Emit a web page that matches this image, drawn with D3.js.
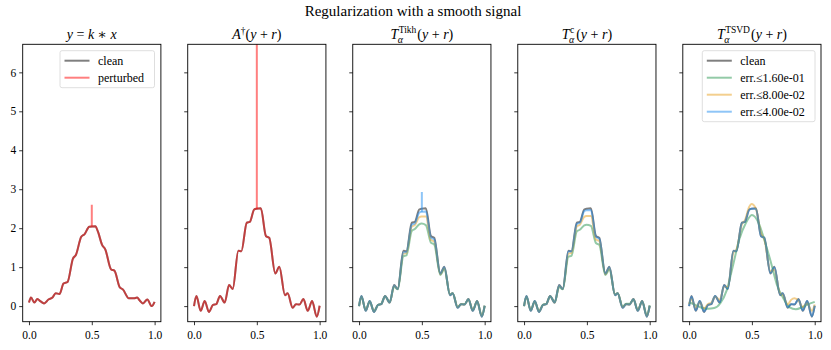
<!DOCTYPE html>
<html>
<head>
<meta charset="utf-8">
<script src="https://cdn.jsdelivr.net/npm/d3@7"></script>
<style>
  body { margin: 0; background: #fff; }
  text { font-family: "Liberation Serif", "DejaVu Serif", serif; fill: #000; }
</style>
</head>
<body>
<script>
// Figure size
const width = 831, height = 350;

// Superscripts for the T_alpha panel titles
const panelSups = [null, null, "Tikh", "c", "TSVD"];

// Axis ticks
const xTicks = [0.0, 0.5, 1.0];
const yTicks = [0, 1, 2, 3, 4, 5, 6];

// Convolved signal y = k*x (panel 1)
const tY = [0, 0.016, 0.043, 0.067, 0.093, 0.12, 0.155, 0.187, 0.213, 0.243, 0.275, 0.307, 0.35, 0.373, 0.416, 0.443, 0.48, 0.528, 0.549, 0.581, 0.608, 0.654, 0.68, 0.723, 0.747, 0.795, 0.835, 0.861, 0.88, 0.907, 0.942, 0.977, 1.0];
const yClean = [0.09, 0.22, 0.09, 0.18, 0.12, 0.07, 0.17, 0.22, 0.33, 0.31, 0.58, 0.62, 1.22, 1.31, 1.78, 1.85, 2.04, 2.05, 1.91, 1.58, 1.45, 0.94, 0.91, 0.48, 0.43, 0.20, 0.20, 0.22, 0.15, 0.07, 0.17, 0.0, 0.11];

// Clean signal x and reconstructions (same sample positions)
const tX = [0, 0.019, 0.053, 0.085, 0.119, 0.151, 0.177, 0.207, 0.244, 0.279, 0.308, 0.353, 0.377, 0.42, 0.444, 0.479, 0.497, 0.532, 0.572, 0.599, 0.647, 0.679, 0.724, 0.745, 0.785, 0.812, 0.839, 0.871, 0.905, 0.94, 0.977, 1.0];
const xClean = [0.0, 0.26, -0.12, 0.13, -0.15, 0.03, 0.05, 0.26, 0.09, 0.54, 0.44, 1.42, 1.41, 2.14, 2.16, 2.48, 2.5, 2.51, 1.80, 1.75, 0.84, 1.01, 0.28, 0.33, -0.04, 0.05, 0.04, 0.18, -0.12, 0.13, -0.27, 0.01];

const tikhGreen  = [0.0, 0.24, -0.1, 0.12, -0.13, 0.03, 0.06, 0.25, 0.1, 0.5, 0.43, 1.28, 1.3, 1.93, 1.98, 2.1, 2.12, 2.08, 1.63, 1.58, 0.8, 0.95, 0.3, 0.33, -0.02, 0.05, 0.05, 0.17, -0.1, 0.12, -0.24, 0.01];
const tikhOrange = [0.0, 0.25, -0.11, 0.12, -0.14, 0.03, 0.05, 0.26, 0.09, 0.52, 0.44, 1.35, 1.36, 2.04, 2.08, 2.28, 2.3, 2.3, 1.7, 1.66, 0.82, 0.98, 0.29, 0.33, -0.03, 0.05, 0.04, 0.18, -0.11, 0.13, -0.26, 0.01];
const tikhBlue   = [0.0, 0.26, -0.12, 0.13, -0.15, 0.03, 0.05, 0.26, 0.09, 0.53, 0.44, 1.38, 1.39, 2.09, 2.12, 2.4, 2.42, 2.43, 1.76, 1.71, 0.83, 1.0, 0.28, 0.33, -0.04, 0.05, 0.04, 0.18, -0.12, 0.13, -0.27, 0.01];

const cGreen  = [0.0, 0.24, -0.1, 0.12, -0.13, 0.04, 0.06, 0.25, 0.1, 0.49, 0.43, 1.27, 1.29, 1.92, 1.96, 2.07, 2.09, 2.06, 1.62, 1.57, 0.8, 0.94, 0.3, 0.33, -0.01, 0.06, 0.06, 0.17, -0.1, 0.12, -0.23, 0.02];
const cOrange = [0.0, 0.25, -0.11, 0.12, -0.14, 0.03, 0.05, 0.26, 0.09, 0.52, 0.44, 1.35, 1.36, 2.05, 2.09, 2.29, 2.31, 2.31, 1.71, 1.67, 0.82, 0.98, 0.29, 0.33, -0.03, 0.05, 0.04, 0.18, -0.11, 0.13, -0.26, 0.01];
const cBlue   = [0.0, 0.26, -0.12, 0.13, -0.15, 0.03, 0.05, 0.26, 0.09, 0.53, 0.44, 1.4, 1.4, 2.11, 2.14, 2.44, 2.46, 2.47, 1.78, 1.73, 0.83, 1.0, 0.28, 0.33, -0.04, 0.05, 0.04, 0.18, -0.12, 0.13, -0.27, 0.01];

const tsvdOrange = [0.05, 0.18, -0.05, 0.1, -0.06, 0.05, 0.09, 0.24, 0.16, 0.5, 0.5, 1.38, 1.45, 2.1, 2.2, 2.55, 2.62, 2.5, 1.86, 1.72, 0.9, 0.94, 0.32, 0.3, 0.04, 0.16, 0.2, 0.14, -0.02, 0.08, -0.12, 0.04];
const tsvdBlue   = [0.0, 0.25, -0.11, 0.13, -0.14, 0.03, 0.06, 0.26, 0.1, 0.53, 0.45, 1.41, 1.42, 2.13, 2.17, 2.47, 2.5, 2.5, 1.8, 1.75, 0.85, 1.0, 0.29, 0.33, -0.03, 0.05, 0.05, 0.17, -0.11, 0.13, -0.26, 0.01];

// Smooth TSVD (largest error level)
const tG = [0, 0.05, 0.1, 0.15, 0.2, 0.25, 0.3, 0.35, 0.4, 0.45, 0.5, 0.55, 0.6, 0.65, 0.7, 0.75, 0.8, 0.85, 0.9, 0.95, 1.0];
const tsvdGreen = [0.1, 0.03, -0.04, -0.07, -0.05, 0.08, 0.41, 1.05, 1.72, 2.12, 2.34, 2.16, 1.69, 1.14, 0.54, 0.2, -0.03, -0.08, -0.03, 0.05, 0.11];

// Spikes from the perturbation r at t = 0.5
const spikes = [
  {panel: 0, t: 0.5, base: 2.05, top: 2.6, color: "red"},
  {panel: 1, t: 0.5, base: 2.5, top: 40, color: "red"},
  {panel: 2, t: 0.5, base: 2.42, top: 2.93, color: "blue"}
];

const legend1 = ["clean", "perturbed"];
const legend5 = ["clean", "err.≤1.60e-01", "err.≤8.00e-02", "err.≤4.00e-02"];

const colors = {
  clean: "rgba(0,0,0,0.5)",
  red: "rgba(255,0,0,0.5)",
  green: "rgba(40,150,80,0.5)",
  orange: "rgba(232,160,30,0.5)",
  blue: "rgba(30,140,240,0.5)"
};

const svg = d3.select("body").append("svg")
  .attr("width", width).attr("height", height);

// Panel positions
const panel = d3.scaleBand().domain(d3.range(5)).range([22.7, 821]).paddingInner(0.1626);
const plotTop = 44.3, plotBottom = 321.7;
const y = d3.scaleLinear().domain([-0.4, 6.72]).range([plotBottom, plotTop]);

svg.append("text").attr("x", 413).attr("y", 16).attr("text-anchor", "middle")
  .attr("font-size", 15).text("Regularization with a smooth signal");

const toPts = (ts, vs) => ts.map((t, i) => [t, vs[i]]);

// Series per panel
const series = [
  [{pts: toPts(tY, yClean), c: colors.clean}, {pts: toPts(tY, yClean), c: colors.red}],
  [{pts: toPts(tX, xClean), c: colors.clean}, {pts: toPts(tX, xClean), c: colors.red}],
  [{pts: toPts(tX, xClean), c: colors.clean}, {pts: toPts(tX, tikhGreen), c: colors.green},
   {pts: toPts(tX, tikhOrange), c: colors.orange}, {pts: toPts(tX, tikhBlue), c: colors.blue}],
  [{pts: toPts(tX, xClean), c: colors.clean}, {pts: toPts(tX, cGreen), c: colors.green},
   {pts: toPts(tX, cOrange), c: colors.orange}, {pts: toPts(tX, cBlue), c: colors.blue}],
  [{pts: toPts(tX, xClean), c: colors.clean}, {pts: toPts(tG, tsvdGreen), c: colors.green},
   {pts: toPts(tX, tsvdOrange), c: colors.orange}, {pts: toPts(tX, tsvdBlue), c: colors.blue}]
];

// (y + r) with italic variables
function addArg(sel) {
  sel.append("tspan").text("(");
  sel.append("tspan").attr("font-style", "italic").text("y");
  sel.append("tspan").text(" + ");
  sel.append("tspan").attr("font-style", "italic").text("r");
  sel.append("tspan").text(")");
}

d3.range(5).forEach(i => {
  const x0 = panel(i), w = panel.bandwidth();
  const x = d3.scaleLinear().domain([-0.05, 1.05]).range([x0, x0 + w]);
  const g = svg.append("g");

  g.append("clipPath").attr("id", "clip" + i)
    .append("rect").attr("x", x0).attr("y", plotTop).attr("width", w).attr("height", plotBottom - plotTop);

  const plot = g.append("g").attr("clip-path", `url(#clip${i})`);
  const line = d3.line().x(d => x(d[0])).y(d => y(d[1])).curve(d3.curveMonotoneX);

  series[i].forEach(s => {
    plot.append("path").attr("d", line(s.pts)).attr("fill", "none")
      .attr("stroke", s.c).attr("stroke-width", 2).attr("stroke-linejoin", "round");
  });
  spikes.filter(s => s.panel === i).forEach(s => {
    plot.append("line").attr("x1", x(s.t)).attr("x2", x(s.t))
      .attr("y1", y(s.base)).attr("y2", y(s.top))
      .attr("stroke", colors[s.color]).attr("stroke-width", 2);
  });

  // Axes
  const xAxis = d3.axisBottom(x).tickValues(xTicks).tickFormat(d3.format(".1f")).tickSizeOuter(0).tickSize(3.5);
  const yAxis = d3.axisLeft(y).tickValues(yTicks).tickSizeOuter(0).tickSize(3.5)
    .tickFormat(i === 0 ? d3.format("d") : "");
  const gx = g.append("g").attr("transform", `translate(0,${plotBottom})`).call(xAxis);
  const gy = g.append("g").attr("transform", `translate(${x0},0)`).call(yAxis);
  [gx, gy].forEach(a => {
    a.attr("font-family", null);
    a.select(".domain").remove();
    a.selectAll("text").attr("font-size", 11.5);
    a.selectAll("line").attr("stroke", "#000").attr("stroke-width", 0.8);
  });
  gx.selectAll("text").attr("dy", "0.95em");

  g.append("rect").attr("x", x0).attr("y", plotTop).attr("width", w).attr("height", plotBottom - plotTop)
    .attr("fill", "none").attr("stroke", "#000").attr("stroke-width", 0.9);

  // Titles
  const cx = x0 + w / 2, base = 39;
  if (i === 0) {
    const tt = g.append("text").attr("x", cx).attr("y", base).attr("text-anchor", "middle").attr("font-size", 14);
    tt.append("tspan").attr("font-style", "italic").text("y");
    tt.append("tspan").text(" = ");
    tt.append("tspan").attr("font-style", "italic").text("k");
    tt.append("tspan").text(" ∗ ");
    tt.append("tspan").attr("font-style", "italic").text("x");
  } else if (i === 1) {
    const tt = g.append("text").attr("x", cx).attr("y", base).attr("text-anchor", "middle").attr("font-size", 14);
    tt.append("tspan").attr("font-style", "italic").text("A");
    tt.append("tspan").attr("dy", -5).attr("font-size", 9.5).text("†");
    tt.append("tspan").attr("dy", 5).text("(");
    tt.append("tspan").attr("font-style", "italic").text("y");
    tt.append("tspan").text(" + ");
    tt.append("tspan").attr("font-style", "italic").text("r");
    tt.append("tspan").text(")");
  } else {
    const tg = g.append("g");
    const tT = tg.append("text").attr("y", base).attr("font-size", 14).attr("font-style", "italic").text("T");
    const tS = tg.append("text").attr("y", base - 6.5).attr("font-size", 9.5).text(panelSups[i]);
    const tA = tg.append("text").attr("y", base + 3.5).attr("font-size", 10).attr("font-style", "italic").text("α");
    const tR = tg.append("text").attr("y", base).attr("font-size", 14);
    addArg(tR);
    const wT = tT.node().getComputedTextLength();
    const wS = Math.max(tS.node().getComputedTextLength(), tA.node().getComputedTextLength());
    const wR = tR.node().getComputedTextLength();
    const sx = cx - (wT + wS + 1.5 + wR) / 2;
    tT.attr("x", sx);
    tS.attr("x", sx + wT + 0.5);
    tA.attr("x", sx + wT - 0.5);
    tR.attr("x", sx + wT + wS + 1.5);
  }
});

// Legends
function drawLegend(x0, y0, w, labels, cols) {
  const g = svg.append("g");
  g.append("rect").attr("x", x0).attr("y", y0).attr("width", w).attr("height", 17 * labels.length + 3)
    .attr("rx", 2).attr("fill", "rgba(255,255,255,0.8)").attr("stroke", "#d6d6d6").attr("stroke-width", 0.8);
  labels.forEach((l, k) => {
    const yy = y0 + 10 + k * 17;
    g.append("line").attr("x1", x0 + 4.5).attr("x2", x0 + 29.5).attr("y1", yy).attr("y2", yy)
      .attr("stroke", cols[k]).attr("stroke-width", 2);
    g.append("text").attr("x", x0 + 38).attr("y", yy + 4).attr("font-size", 12).text(l);
  });
}
drawLegend(60, 50.7, 94.5, legend1, [colors.clean, colors.red]);
drawLegend(702.3, 50.7, 112.7, legend5, [colors.clean, colors.green, colors.orange, colors.blue]);
</script>
</body>
</html>
